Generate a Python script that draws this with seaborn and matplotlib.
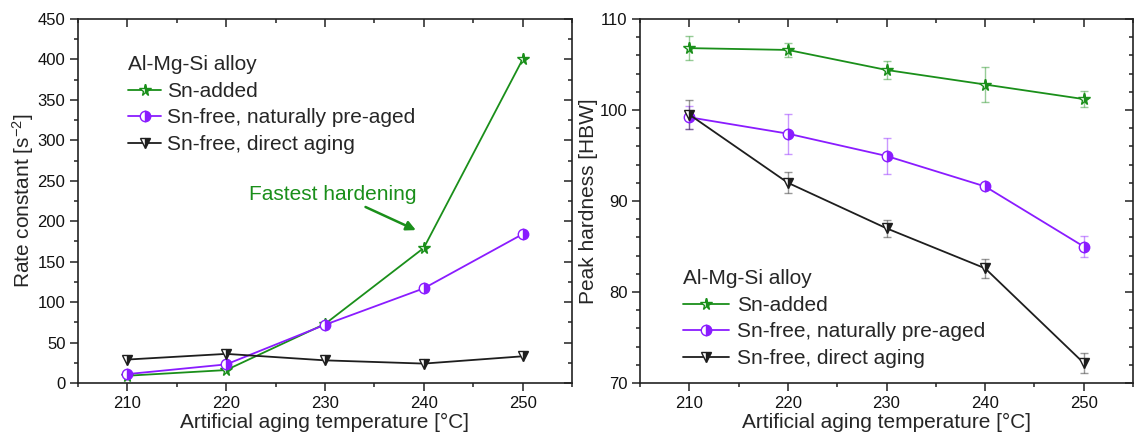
import numpy as np
import pandas as pd
import matplotlib
matplotlib.use("Agg")
import matplotlib.pyplot as plt
from matplotlib.ticker import MultipleLocator
import seaborn as sns

# Artificial aging temperatures [°C]
temps = [210, 220, 230, 240, 250]

# Rate constants [s^-2]
rate_sn_added = [9, 16, 73, 167, 400]
rate_preaged = [11, 23, 72, 117, 184]
rate_direct = [29, 36, 28, 24, 33]

# Peak hardness [HBW] with standard deviations
hard_sn_added = [106.8, 106.6, 104.4, 102.8, 101.2]
hard_sn_added_err = [1.3, 0.8, 1.0, 1.9, 0.85]
hard_preaged = [99.2, 97.4, 94.95, 91.6, 85.0]
hard_preaged_err = [1.25, 2.2, 2.0, 0.3, 1.15]
hard_direct = [99.5, 92.0, 87.0, 82.6, 72.2]
hard_direct_err = [1.6, 1.15, 0.95, 1.05, 1.05]

series_names = ["Sn-added", "Sn-free, naturally pre-aged", "Sn-free, direct aging"]
legend_title = "Al-Mg-Si alloy"

sns.set_style("ticks")
plt.rcParams["font.family"] = ["Liberation Sans", "DejaVu Sans"]
plt.rcParams["mathtext.fontset"] = "custom"
plt.rcParams["mathtext.rm"] = "Liberation Sans"
plt.rcParams["mathtext.it"] = "Liberation Sans"

GREEN = "#1a8f1a"
PURPLE = "#8a1cff"
BLACK = "#1e1e1e"
AXIS = "#222222"
colors = [GREEN, PURPLE, BLACK]
markers = ["*", "o", "v"]
msizes = [8.5, 7.5, 7.5]

fig = plt.figure(figsize=(11.34, 4.44), dpi=100)
ax1 = fig.add_axes([78 / 1134, 1 - 383 / 444, 494 / 1134, 364 / 444])
ax2 = fig.add_axes([640 / 1134, 1 - 383 / 444, 493 / 1134, 364 / 444])


def draw_series(ax, y, name, color, marker, ms, err=None):
    df = pd.DataFrame({"T": temps, "v": y})
    if err is not None:
        ax.errorbar(temps, y, yerr=err, fmt="none", ecolor=color, alpha=0.45,
                    elinewidth=1.0, capsize=3.2, capthick=1.0, zorder=2)
    sns.lineplot(data=df, x="T", y="v", ax=ax, color=color, linewidth=1.3,
                 marker=marker, markersize=ms, fillstyle="right",
                 markerfacecoloralt="white", markeredgecolor=color,
                 markeredgewidth=1.0, errorbar=None, label=name, zorder=3,
                 legend=False)
    return ax.lines[-1]


rates = [rate_sn_added, rate_preaged, rate_direct]
hards = [hard_sn_added, hard_preaged, hard_direct]
herrs = [hard_sn_added_err, hard_preaged_err, hard_direct_err]

h1 = [draw_series(ax1, rates[i], series_names[i], colors[i], markers[i], msizes[i])
      for i in range(3)]
h2 = [draw_series(ax2, hards[i], series_names[i], colors[i], markers[i], msizes[i], herrs[i])
      for i in range(3)]


def style_axes(ax, ylim, ymajor, yminor, ylabel):
    ax.set_xlim(205, 255)
    ax.set_ylim(*ylim)
    ax.xaxis.set_major_locator(MultipleLocator(10))
    ax.xaxis.set_minor_locator(MultipleLocator(5))
    ax.yaxis.set_major_locator(MultipleLocator(ymajor))
    ax.yaxis.set_minor_locator(MultipleLocator(yminor))
    for s in ax.spines.values():
        s.set_visible(True)
        s.set_linewidth(1.2)
        s.set_color(AXIS)
    # outward ticks with labels on bottom and left
    ax.tick_params(which="both", bottom=True, left=True, top=False, right=False,
                   direction="out", colors=AXIS, labelcolor="#111111", width=1.1)
    ax.tick_params(which="major", length=5.5, labelsize=12, pad=3.5)
    ax.tick_params(which="minor", length=3)
    # inward, unlabeled ticks on the mirrored top and right spines
    top = ax.secondary_xaxis("top")
    top.xaxis.set_major_locator(MultipleLocator(10))
    top.xaxis.set_minor_locator(MultipleLocator(5))
    right = ax.secondary_yaxis("right")
    right.yaxis.set_major_locator(MultipleLocator(ymajor))
    right.yaxis.set_minor_locator(MultipleLocator(yminor))
    for sec in (top, right):
        for s in sec.spines.values():
            s.set_visible(False)
        sec.tick_params(which="both", direction="in", colors=AXIS, width=1.1,
                        labeltop=False, labelright=False)
        sec.tick_params(which="major", length=5.5)
        sec.tick_params(which="minor", length=3)
    ax.set_xlabel("Artificial aging temperature [°C]", fontsize=15, labelpad=2)
    ax.set_ylabel(ylabel, fontsize=15, labelpad=1)
    ax.grid(False)


style_axes(ax1, (0, 450), 50, 25, "Rate constant [s$^{-2}$]")
style_axes(ax2, (70, 110), 10, 2, "Peak hardness [HBW]")

leg_kw = dict(frameon=False, fontsize=15, title_fontsize=15, loc="upper left",
              borderpad=0, borderaxespad=0, labelspacing=0.36, alignment="left")
ax1.legend(handles=h1, labels=series_names, title=legend_title,
           bbox_to_anchor=(0.101, 0.9), handlelength=1.6, handletextpad=0.3, **leg_kw)
ax2.legend(handles=h2, labels=series_names, title=legend_title,
           bbox_to_anchor=(0.087, 0.312), handlelength=2.2, handletextpad=0.4, **leg_kw)

ax1.annotate("Fastest hardening", xy=(239.2, 189), xytext=(222.3, 233),
             color=GREEN, fontsize=15, va="center", ha="left")
ax1.annotate("", xy=(239.2, 189), xytext=(234.1, 217.6),
             arrowprops=dict(arrowstyle="-|>", color=GREEN, lw=1.8,
                             mutation_scale=14, shrinkA=0, shrinkB=0))

fig.savefig("out.png", dpi=100)
